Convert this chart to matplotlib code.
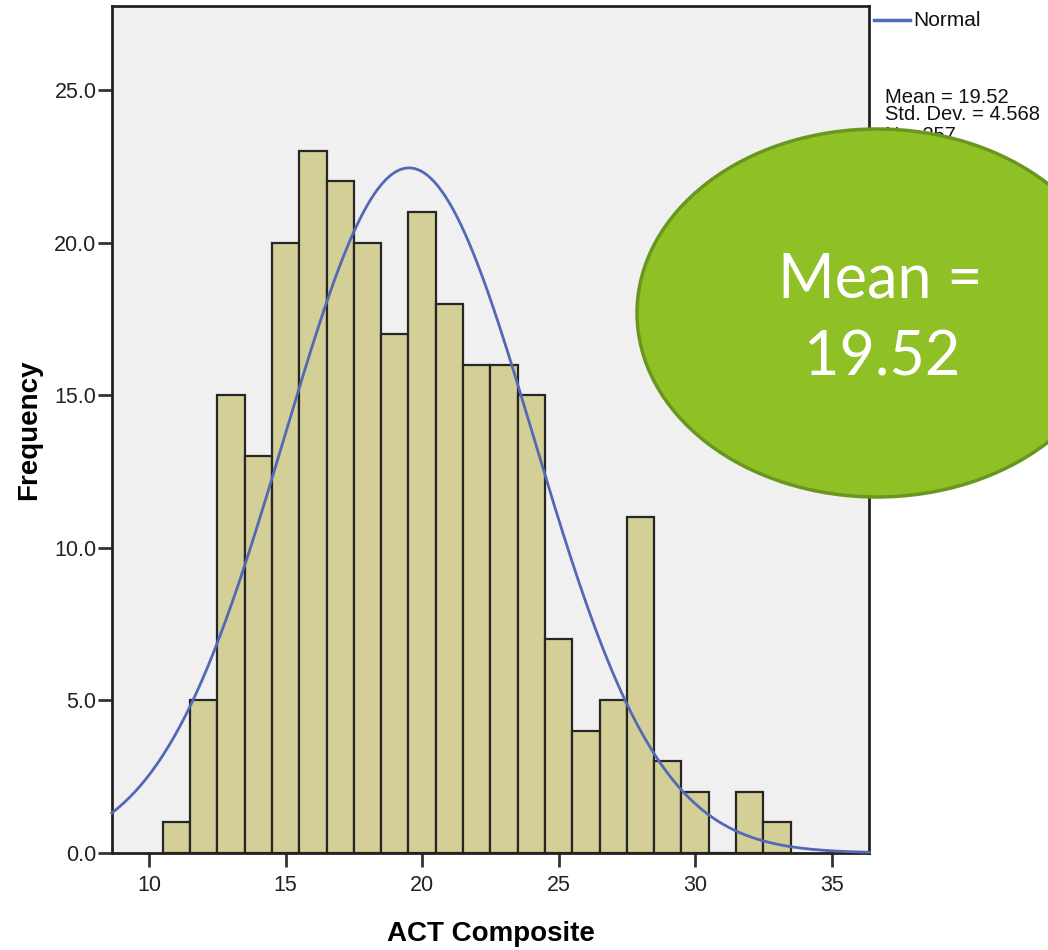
import numpy as np
import matplotlib
matplotlib.use("Agg")
import matplotlib.pyplot as plt
from matplotlib.patches import Ellipse

# ACT composite scores, one bin per integer score
scores = [11, 12, 13, 14, 15, 16, 17, 18, 19, 20, 21, 22,
          23, 24, 25, 26, 27, 28, 29, 30, 31, 32, 33]
counts = [1, 5, 15, 13, 20, 23, 22, 20, 17, 21, 18, 16,
          16, 15, 7, 4, 5, 11, 3, 2, 0, 2, 1]
mean = 19.52
sd = 4.568
n = 257
yticks = [0, 5, 10, 15, 20, 25]
xticks = [10, 15, 20, 25, 30, 35]

plt.rcParams['font.family'] = ['Liberation Sans', 'DejaVu Sans']

fig = plt.figure(figsize=(10.48, 9.5), dpi=100)
ax = fig.add_axes([0.1066, 0.1021, 0.8295 - 0.1066, 0.9937 - 0.1021])
ax.set_facecolor("#f0f0f0")

ax.bar(scores, counts, width=1.0, color="#d3cf97", edgecolor="#262626",
       linewidth=1.6, zorder=2)

# fitted normal curve scaled to the counts
xs = np.linspace(8.63, 36.38, 400)
ys = n * 1.0 / (sd * np.sqrt(2 * np.pi)) * np.exp(-0.5 * ((xs - mean) / sd) ** 2)
ax.plot(xs, ys, color="#5468b8", linewidth=2, zorder=3, clip_on=False)

ax.set_xlim(8.63, 36.38)
ax.set_ylim(0, 27.75)
ax.set_xticks(xticks)
ax.set_xticklabels([str(t) for t in xticks], fontsize=15.5, color="#222222")
ax.set_yticks(yticks)
ax.set_yticklabels(["%.1f" % t for t in yticks], fontsize=15.5, color="#222222")
ax.tick_params(axis="x", length=10, width=2, pad=6, color="#333333")
ax.tick_params(axis="y", length=10, width=2, pad=1, color="#333333")
for s in ax.spines.values():
    s.set_linewidth(2)
    s.set_color("#222222")

ax.set_xlabel("ACT Composite", fontsize=20, fontweight="bold", labelpad=18)
ax.set_ylabel("Frequency", fontsize=20, fontweight="bold", labelpad=9)

# overlay in pixel coordinates for the legend block and the callout
ov = fig.add_axes([0, 0, 1, 1], facecolor="none")
ov.set_xlim(0, 1048)
ov.set_ylim(950, 0)
ov.axis("off")

ov.plot([874, 910], [20, 20], color="#5468b8", linewidth=2.5)
ov.text(913, 21, "Normal", fontsize=15, va="center", ha="left", color="#111111")
ov.text(885, 103, "Mean = %.2f" % mean, fontsize=14.5, va="baseline", color="#111111")
ov.text(885, 120, "Std. Dev. = %.3f" % sd, fontsize=14.5, va="baseline", color="#111111")
ov.text(885, 141, "N = %d" % n, fontsize=14.5, va="baseline", color="#111111")

ell = Ellipse((877, 313), 480, 368, facecolor="#8fc127", edgecolor="#6a961f",
              linewidth=2.5, zorder=5)
ov.add_patch(ell)
ov.text(880, 298, "Mean =", fontsize=44, color="white", ha="center",
        va="baseline", family="Lato", zorder=6)
ov.text(882, 375, "%.2f" % mean, fontsize=44, color="white", ha="center",
        va="baseline", family="Lato", zorder=6)

fig.savefig("out.png", dpi=100)
